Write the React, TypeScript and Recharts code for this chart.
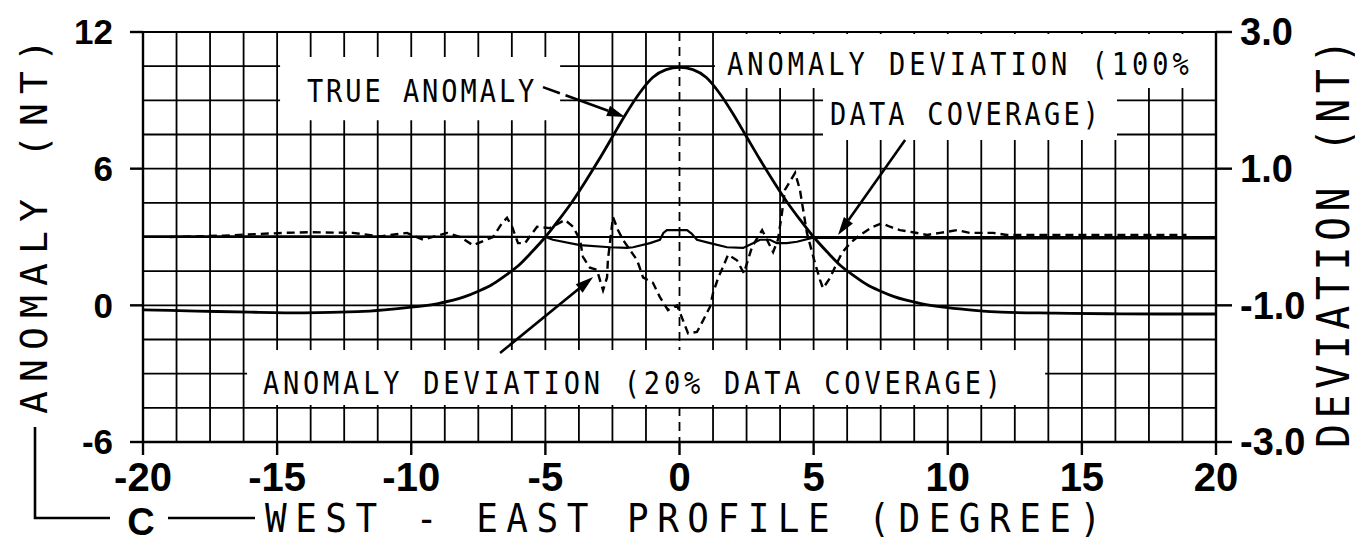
import React from 'react';
import {
  ComposedChart,
  Line,
  XAxis,
  YAxis,
  CartesianGrid,
  ReferenceArea,
  ReferenceDot,
  ReferenceLine,
} from 'recharts';

// ---------- axis ticks ----------
const xTicks = [-20, -15, -10, -5, 0, 5, 10, 15, 20];
const anomalyTicks = [-6, 0, 6, 12];
const deviationTicks = [-3, -1, 1, 3];

// grid spacing (1.25 degree, 1.5 nT)
const gridX = Array.from({ length: 33 }, (_, i) => -20 + i * 1.25).filter((v) => v !== 0);
const gridXDashed = [0];
const gridY = Array.from({ length: 13 }, (_, i) => -6 + i * 1.5);

// ---------- series ----------
const trueAnomaly = [
  { x: -20, y: -0.2 }, { x: -18, y: -0.25 }, { x: -16, y: -0.3 }, { x: -14, y: -0.33 },
  { x: -12, y: -0.28 }, { x: -11, y: -0.2 }, { x: -10, y: -0.08 }, { x: -9, y: 0.08 },
  { x: -8, y: 0.38 }, { x: -7.5, y: 0.62 }, { x: -7, y: 0.9 }, { x: -6.5, y: 1.3 },
  { x: -6, y: 1.75 }, { x: -5.5, y: 2.35 }, { x: -5, y: 3.0 }, { x: -4.5, y: 3.75 },
  { x: -4, y: 4.55 }, { x: -3.5, y: 5.45 }, { x: -3, y: 6.4 }, { x: -2.5, y: 7.4 },
  { x: -2, y: 8.4 }, { x: -1.5, y: 9.3 }, { x: -1, y: 10.0 }, { x: -0.5, y: 10.35 },
  { x: 0, y: 10.45 }, { x: 0.5, y: 10.35 }, { x: 1, y: 10.0 }, { x: 1.5, y: 9.3 },
  { x: 2, y: 8.4 }, { x: 2.5, y: 7.4 }, { x: 3, y: 6.4 }, { x: 3.5, y: 5.45 },
  { x: 4, y: 4.55 }, { x: 4.5, y: 3.75 }, { x: 5, y: 3.0 }, { x: 5.5, y: 2.35 },
  { x: 6, y: 1.75 }, { x: 6.5, y: 1.3 }, { x: 7, y: 0.9 }, { x: 7.5, y: 0.62 },
  { x: 8, y: 0.38 }, { x: 9, y: 0.08 }, { x: 10, y: -0.1 }, { x: 11, y: -0.22 },
  { x: 12, y: -0.3 }, { x: 14, y: -0.34 }, { x: 16, y: -0.37 }, { x: 18, y: -0.38 },
  { x: 20, y: -0.38 },
];

const deviation100 = [
  { x: -20, y: 0.01 }, { x: -12, y: 0.01 }, { x: -5.0, y: 0.0 }, { x: -4.72, y: -0.04 },
  { x: -3.71, y: -0.12 }, { x: -2.59, y: -0.15 }, { x: -1.96, y: -0.16 }, { x: -1.73, y: -0.15 },
  { x: -1.1, y: -0.09 }, { x: -0.73, y: -0.04 }, { x: -0.6, y: 0.06 }, { x: -0.47, y: 0.1 },
  { x: 0.28, y: 0.1 }, { x: 0.45, y: 0.05 }, { x: 0.65, y: -0.04 }, { x: 1.14, y: -0.09 },
  { x: 1.77, y: -0.15 }, { x: 2.37, y: -0.16 }, { x: 2.74, y: -0.09 }, { x: 3.0, y: -0.04 },
  { x: 3.37, y: -0.04 }, { x: 3.63, y: -0.09 }, { x: 4.0, y: -0.09 }, { x: 4.38, y: -0.07 },
  { x: 4.98, y: -0.01 }, { x: 10, y: -0.02 }, { x: 20, y: -0.02 },
];

const deviation20 = [
  { x: -19, y: 0.0 }, { x: -17, y: 0.02 }, { x: -14.78, y: 0.06 }, { x: -13.77, y: 0.07 },
  { x: -12.17, y: 0.06 }, { x: -11.17, y: 0.01 }, { x: -10.16, y: 0.06 }, { x: -9.56, y: -0.04 },
  { x: -8.67, y: 0.06 }, { x: -8.18, y: 0.0 }, { x: -7.7, y: -0.12 }, { x: -6.95, y: 0.0 },
  { x: -6.62, y: 0.2 }, { x: -6.43, y: 0.28 }, { x: -6.24, y: 0.15 }, { x: -6.02, y: -0.09 },
  { x: -5.76, y: -0.09 }, { x: -5.31, y: 0.15 }, { x: -4.83, y: 0.13 }, { x: -4.27, y: 0.25 },
  { x: -3.97, y: 0.15 }, { x: -3.71, y: -0.04 }, { x: -3.6, y: -0.29 }, { x: -3.34, y: -0.45 },
  { x: -3.08, y: -0.48 }, { x: -2.85, y: -0.78 }, { x: -2.7, y: -0.59 }, { x: -2.67, y: -0.34 },
  { x: -2.48, y: 0.29 }, { x: -2.29, y: 0.1 }, { x: -2.11, y: -0.04 }, { x: -1.58, y: -0.34 },
  { x: -1.36, y: -0.59 }, { x: -0.99, y: -0.67 }, { x: -0.73, y: -0.88 }, { x: -0.43, y: -1.07 },
  { x: -0.09, y: -1.0 }, { x: 0.13, y: -1.22 }, { x: 0.32, y: -1.41 }, { x: 0.65, y: -1.39 },
  { x: 0.88, y: -1.22 }, { x: 1.14, y: -1.02 }, { x: 1.25, y: -0.82 }, { x: 1.44, y: -0.6 },
  { x: 1.62, y: -0.44 }, { x: 1.81, y: -0.26 }, { x: 2.14, y: -0.34 }, { x: 2.4, y: -0.53 },
  { x: 2.7, y: -0.15 }, { x: 2.89, y: -0.02 }, { x: 3.08, y: 0.1 }, { x: 3.26, y: -0.04 },
  { x: 3.49, y: -0.22 }, { x: 3.67, y: -0.04 }, { x: 3.82, y: 0.35 }, { x: 3.93, y: 0.69 },
  { x: 4.31, y: 0.94 }, { x: 4.49, y: 0.69 }, { x: 4.75, y: 0.06 }, { x: 4.94, y: -0.22 },
  { x: 5.05, y: -0.38 }, { x: 5.24, y: -0.63 }, { x: 5.35, y: -0.75 }, { x: 5.61, y: -0.6 },
  { x: 5.87, y: -0.38 }, { x: 6.06, y: -0.23 }, { x: 6.36, y: -0.09 }, { x: 6.73, y: 0.03 },
  { x: 7.21, y: 0.15 }, { x: 7.55, y: 0.2 }, { x: 7.85, y: 0.15 }, { x: 8.22, y: 0.1 },
  { x: 8.7, y: 0.07 }, { x: 9.23, y: 0.03 }, { x: 9.71, y: 0.06 }, { x: 10.34, y: 0.1 },
  { x: 10.83, y: 0.06 }, { x: 11.69, y: 0.06 }, { x: 12.21, y: 0.03 }, { x: 13.8, y: 0.03 },
  { x: 18.9, y: 0.03 },
];

// ---------- text helpers ----------
const MONO = '"DejaVu Sans Mono", "Liberation Mono", monospace';
const BOLD = '"Liberation Sans", Arial, sans-serif';

type ST = {
  x: number; y: number; text: string; size: number; sy: number; ls: number;
  anchor?: 'start' | 'middle' | 'end'; rotate?: number;
};
function StretchText({ x, y, text, size, sy, ls, anchor = 'start', rotate = 0 }: ST) {
  const cap = size * 0.73;
  return (
    <text
      transform={`translate(${x},${y}) rotate(${rotate}) scale(1,${sy})`}
      x={0}
      y={cap / 2}
      fontSize={size}
      fontFamily={MONO}
      letterSpacing={ls}
      textAnchor={anchor}
      fill="#000"
    >
      {text}
    </text>
  );
}

const textShape = (text: string, ls: number) => (p: any) => (
  <StretchText x={p.cx} y={p.cy} text={text} size={27} sy={1.17} ls={ls} />
);

const arrowShape = (dash?: string) => (p: any) => {
  const { x1, y1, x2, y2 } = p;
  const ang = Math.atan2(y2 - y1, x2 - x1);
  const L = 18;
  const W = 5.5;
  const bx = x2 - L * Math.cos(ang);
  const by = y2 - L * Math.sin(ang);
  const nx = -Math.sin(ang) * W;
  const ny = Math.cos(ang) * W;
  return (
    <g>
      <line x1={x1} y1={y1} x2={bx} y2={by} stroke="#000" strokeWidth={2.6} strokeDasharray={dash} />
      <polygon points={`${x2},${y2} ${bx + nx},${by + ny} ${bx - nx},${by - ny}`} fill="#000" />
    </g>
  );
};

const LeftTitle = () => (
  <g>
    <StretchText x={25} y={214} text="ANOMALY (NT)" size={38} sy={1.0} ls={9.1} anchor="middle" rotate={-90} />
  </g>
);

const RightTitle = () => (
  <g>
    <StretchText x={1325} y={233} text="DEVIATION (NT)" size={40} sy={1.1} ls={5.5} anchor="middle" rotate={-90} />
  </g>
);

const BottomTitle = () => (
  <g>
    <path d="M27,419 L27,510 L102,510" fill="none" stroke="#000" strokeWidth={2.6} />
    <text x={133} y={527} fontSize={38} fontWeight={700} fontFamily={BOLD} textAnchor="middle" fill="#000">
      C
    </text>
    <line x1={160} y1={510} x2={247} y2={510} stroke="#000" strokeWidth={2.6} />
    <StretchText x={257} y={510} text="WEST - EAST PROFILE (DEGREE)" size={36} sy={1.1} ls={8.5} />
  </g>
);

export default function App() {
  const axisStroke = { stroke: '#000', strokeWidth: 2.4 };
  return (
    <div style={{ width: 1355, height: 536, background: '#fff' }}>
      <ComposedChart width={1355} height={536} margin={{ top: 24, right: 0, bottom: 0, left: 0 }}>
        <CartesianGrid
          yAxisId="a"
          horizontalValues={gridY}
          verticalValues={gridX}
          stroke="#000"
          strokeWidth={1.8}
          strokeOpacity={1}
        />
        <CartesianGrid
          yAxisId="a"
          horizontal={false}
          verticalValues={gridXDashed}
          stroke="#000"
          strokeWidth={1.8}
          strokeDasharray="9 6"
        />
        <XAxis
          type="number"
          dataKey="x"
          domain={[-20, 20]}
          ticks={xTicks}
          allowDataOverflow
          height={102}
          tickSize={13}
          tickMargin={8}
          axisLine={axisStroke}
          tickLine={axisStroke}
          tick={{ fill: '#000', fontSize: 40, fontWeight: 700, fontFamily: BOLD }}
          interval={0}
          label={BottomTitle}
        />
        <YAxis
          yAxisId="a"
          type="number"
          domain={[-6, 12]}
          ticks={anomalyTicks}
          allowDataOverflow
          width={135}
          tickSize={13}
          tickMargin={17}
          axisLine={axisStroke}
          tickLine={axisStroke}
          tick={{ fill: '#000', fontSize: 35, fontWeight: 700, fontFamily: BOLD }}
          interval={0}
          label={LeftTitle}
        />
        <YAxis
          yAxisId="d"
          orientation="right"
          type="number"
          domain={[-3, 3]}
          ticks={deviationTicks}
          allowDataOverflow
          width={147}
          tickSize={16}
          tickMargin={8}
          axisLine={axisStroke}
          tickLine={axisStroke}
          tick={{ fill: '#000', fontSize: 38, fontWeight: 700, fontFamily: BOLD }}
          tickFormatter={(v: number) => v.toFixed(1)}
          interval={0}
          label={RightTitle}
        />

        {/* white label boxes that interrupt the grid */}
        <ReferenceArea yAxisId="a" x1={-14.89} x2={-4.45} y1={8.13} y2={10.9} fill="#fff" fillOpacity={1} stroke="none" />
        <ReferenceArea yAxisId="a" x1={1.32} x2={20} y1={9.54} y2={11.91} fill="#fff" fillOpacity={1} stroke="none" />
        <ReferenceArea yAxisId="a" x1={5.35} x2={16.31} y1={7.26} y2={9.54} fill="#fff" fillOpacity={1} stroke="none" />
        <ReferenceArea yAxisId="a" x1={-16.12} x2={13.63} y1={-4.38} y2={-1.96} fill="#fff" fillOpacity={1} stroke="none" />

        <Line data={trueAnomaly} dataKey="y" yAxisId="a" type="monotone" stroke="#000" strokeWidth={2.8} dot={false} isAnimationActive={false} />
        <Line data={deviation100} dataKey="y" yAxisId="d" type="linear" stroke="#000" strokeWidth={2.2} dot={false} isAnimationActive={false} />
        <Line data={deviation20} dataKey="y" yAxisId="d" type="linear" stroke="#000" strokeWidth={2.4} strokeDasharray="8 5" dot={false} isAnimationActive={false} />

        {/* arrows */}
        <ReferenceLine yAxisId="a" segment={[{ x: -5.09, y: 9.58 }, { x: -2.03, y: 8.27 }]} shape={arrowShape('18 6 200')} />
        <ReferenceLine yAxisId="a" segment={[{ x: 8.41, y: 7.26 }, { x: 5.91, y: 3.09 }]} shape={arrowShape()} />
        <ReferenceLine yAxisId="a" segment={[{ x: -6.69, y: -2.09 }, { x: -3.22, y: 1.24 }]} shape={arrowShape()} />

        {/* annotations */}
        <ReferenceDot yAxisId="a" x={-13.89} y={9.45} r={0} shape={textShape('TRUE ANOMALY', 2.95)} />
        <ReferenceDot yAxisId="a" x={1.77} y={10.64} r={0} shape={textShape('ANOMALY DEVIATION (100%', 4.0)} />
        <ReferenceDot yAxisId="a" x={5.61} y={8.44} r={0} shape={textShape('DATA COVERAGE)', 3.2)} />
        <ReferenceDot yAxisId="a" x={-15.53} y={-3.37} r={0} shape={textShape('ANOMALY DEVIATION (20% DATA COVERAGE)', 3.8)} />
      </ComposedChart>
    </div>
  );
}
